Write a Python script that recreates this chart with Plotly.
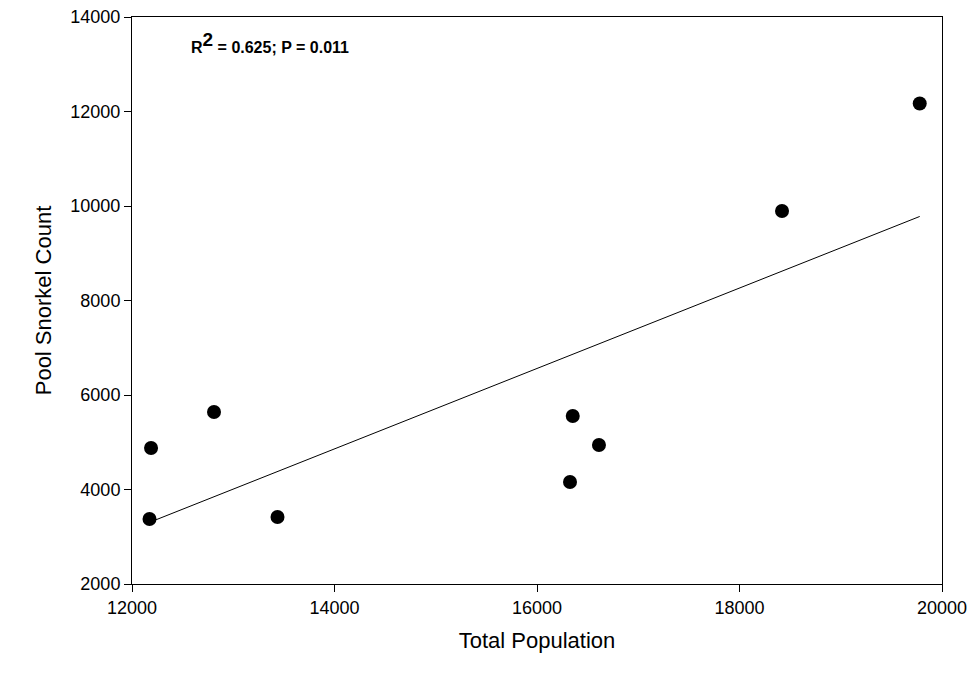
import numpy as np
import plotly.graph_objects as go

# total population vs pool snorkel count
total_pop = [12173, 12188, 12810, 13437, 16326, 16353, 16612, 18420, 19780]
snorkel = [3376, 4878, 5640, 3418, 4159, 5556, 4942, 9894, 12170]

x_ticks = [12000, 14000, 16000, 18000, 20000]
y_ticks = [2000, 4000, 6000, 8000, 10000, 12000, 14000]

# least squares fit
slope, intercept = np.polyfit(total_pop, snorkel, 1)
fit_x = [min(total_pop), max(total_pop)]
fit_y = [slope * v + intercept for v in fit_x]

fig = go.Figure()
fig.add_trace(go.Scatter(x=fit_x, y=fit_y, mode="lines",
                         line=dict(color="black", width=1), showlegend=False))
fig.add_trace(go.Scatter(x=total_pop, y=snorkel, mode="markers",
                         marker=dict(color="black", size=14), showlegend=False))

fig.add_annotation(x=0.07, y=0.955, xref="paper", yref="paper", showarrow=False,
                   xanchor="left", yanchor="middle",
                   text="<b>R<sup><span style='font-size:19px'>2</span></sup> = 0.625; P = 0.011</b>",
                   font=dict(size=16, color="black"))

axis_style = dict(showline=True, linecolor="black", linewidth=1, mirror=True,
                  ticks="outside", ticklen=7, tickcolor="black", showgrid=False,
                  zeroline=False, tickformat="d", automargin=False,
                  tickfont=dict(size=18, color="black"))

fig.update_layout(
    width=977, height=674,
    margin=dict(l=132, r=35, t=17, b=90),
    plot_bgcolor="white", paper_bgcolor="white",
    font=dict(family="Liberation Sans, Arial, sans-serif", color="black"),
    xaxis=dict(range=[12000, 20000], tickvals=x_ticks,
               title=dict(text="Total Population", font=dict(size=22), standoff=16),
               **axis_style),
    yaxis=dict(range=[2000, 14000], tickvals=y_ticks,
               title=dict(text="Pool Snorkel Count", font=dict(size=22), standoff=12),
               **axis_style),
)

# drop the default page margin so the figure sits at the window corner
fig.write_html("out.html", config={"displayModeBar": False},
               post_script="document.body.style.margin='0';")
